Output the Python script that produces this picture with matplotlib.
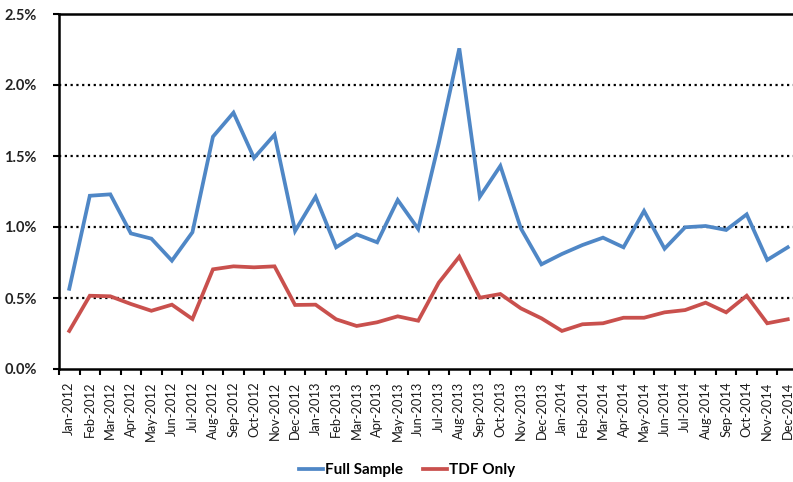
import matplotlib
matplotlib.use("Agg")
import matplotlib.pyplot as plt
import numpy as np

# --- data (percent) ---
months = ["Jan", "Feb", "Mar", "Apr", "May", "Jun",
          "Jul", "Aug", "Sep", "Oct", "Nov", "Dec"]
years = [2012, 2013, 2014]
labels = [f"{m}-{y}" for y in years for m in months]

full_sample = [0.565, 1.22, 1.23, 0.955, 0.918, 0.763, 0.963, 1.636, 1.805, 1.486, 1.65, 0.972,
               1.213, 0.857, 0.948, 0.892, 1.19, 0.986, 1.59, 2.258, 1.213, 1.43, 0.99, 0.737,
               0.81, 0.873, 0.925, 0.857, 1.113, 0.847, 0.998, 1.007, 0.979, 1.089, 0.768, 0.857]
tdf_only = [0.268, 0.516, 0.512, 0.458, 0.41, 0.453, 0.352, 0.702, 0.723, 0.716, 0.723, 0.451,
            0.453, 0.35, 0.303, 0.329, 0.371, 0.34, 0.608, 0.791, 0.502, 0.528, 0.427, 0.357,
            0.268, 0.315, 0.322, 0.361, 0.361, 0.399, 0.415, 0.467, 0.399, 0.516, 0.322, 0.35]

plt.rcParams["font.family"] = ["Lato", "DejaVu Sans"]

W, H = 793, 482
fig = plt.figure(figsize=(W / 100, H / 100), dpi=100)
left, right, top, bottom = 59, 798, 14, 369
ax = fig.add_axes([left / W, 1 - bottom / H, (right - left) / W, (bottom - top) / H])

x = np.arange(len(labels))
ax.plot(x, full_sample, color="#4F87C6", lw=2.7, label="Full Sample", solid_joinstyle="miter")
ax.plot(x, tdf_only, color="#C9504D", lw=2.7, label="TDF Only", solid_joinstyle="miter")

ax.set_xlim(-0.5, len(labels) - 0.5)
ax.set_ylim(0, 2.5)

ax.set_yticks(np.arange(0, 2.51, 0.5))
ax.set_yticklabels([f"{v:.1f}%" for v in np.arange(0, 2.51, 0.5)],
                   fontsize=10.5, fontweight="bold", color="#222222")
for v in [0.5, 1.0, 1.5, 2.0]:
    ax.axhline(v, color="black", lw=1.6, ls=(0, (1, 1.6)), zorder=0)

ax.set_xticks(x)
ax.set_xticklabels(labels, rotation=90, fontsize=9.3, color="#1a1a1a")
ax.set_xticks(np.arange(-0.5, len(labels)), minor=True)
ax.tick_params(axis="x", which="major", length=0, pad=9)
ax.tick_params(axis="x", which="minor", length=4, width=1.5, direction="out")
ax.tick_params(axis="y", length=4, width=1.5, direction="out", pad=12)

for s in ax.spines.values():
    s.set_linewidth(1.8)

ax.legend(loc="center", bbox_to_anchor=((407 - left) / (right - left), -(470 - bottom) / (bottom - top)),
          ncol=2, frameon=False, handlelength=1.6, handletextpad=0.1,
          columnspacing=1.3, prop={"weight": "bold", "size": 11})

fig.savefig("out.png", dpi=100)
